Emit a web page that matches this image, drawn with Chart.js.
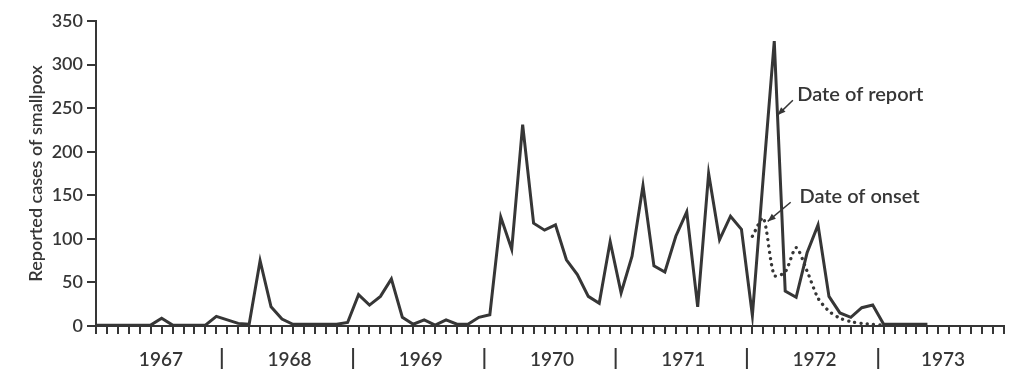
<!DOCTYPE html>
<html>
<head>
<meta charset="utf-8">
<script src="https://cdn.jsdelivr.net/npm/chart.js@4/dist/chart.umd.min.js"></script>
<style>
  html, body { margin: 0; padding: 0; background: #ffffff; }
  #wrap { width: 1024px; height: 375px; }
</style>
</head>
<body>
<div id="wrap"><canvas id="c" width="1024" height="375"></canvas></div>
<script>
// ---- data ----
const years = ['1967', '1968', '1969', '1970', '1971', '1972', '1973'];
const months = ['Jan', 'Feb', 'Mar', 'Apr', 'May', 'Jun', 'Jul', 'Aug', 'Sep', 'Oct', 'Nov', 'Dec'];
const yTicks = [0, 50, 100, 150, 200, 250, 300, 350];
const yTitle = 'Reported cases of smallpox';
const seriesNames = ['Date of report', 'Date of onset'];

// monthly reported cases, by date of report (Jan 1967 .. Dec 1973)
const dateOfReport = [
  1, 1, 1, 1, 1, 1, 9, 1, 1, 1, 1, 11,
  7, 3, 2, 75, 22, 8, 2, 2, 2, 2, 2, 4,
  36, 24, 34, 54, 10, 2, 7, 1, 7, 2, 2, 10,
  13, 125, 88, 231, 118, 110, 116, 76, 59, 34, 26, 97,
  38, 80, 161, 69, 62, 103, 131, 22, 175, 99, 126, 111,
  12, 172, 327, 40, 33, 84, 116, 34, 15, 10, 21, 24,
  2, 2, 2, 2, 2, null, null, null, null, null, null, null
];

// monthly cases, by date of onset (available for 1972 only)
const dateOfOnset = [
  null, null, null, null, null, null, null, null, null, null, null, null,
  null, null, null, null, null, null, null, null, null, null, null, null,
  null, null, null, null, null, null, null, null, null, null, null, null,
  null, null, null, null, null, null, null, null, null, null, null, null,
  null, null, null, null, null, null, null, null, null, null, null, null,
  103, 124, 58, 62, 90, 63, 32, 17, 9, 5, 3, 2,
  1, null, null, null, null, null, null, null, null, null, null, null
];

const labels = years.flatMap(yr => months.map(m => m + ' ' + yr));

// ---- styling ----
const INK = '#363636';
const FONT = 'Lato, "Open Sans", "DejaVu Sans", sans-serif';
const WEIGHT = '600';

// annotation anchors (data coordinates: month index, cases)
const notes = [
  { text: seriesNames[0], at: [64.1, 266], from: [63.7, 259], to: [62.3, 242] },
  { text: seriesNames[1], at: [64.3, 148], from: [63.5, 142], to: [61.4, 120] }
];

const decor = {
  id: 'decor',
  afterDraw(chart) {
    const { ctx, chartArea } = chart;
    const x = chart.scales.x, y = chart.scales.y;
    ctx.save();
    // year boundaries
    const n = years.length;
    const b = [];
    for (let i = 0; i <= n; i++) {
      if (i === 0) b.push(x.getPixelForValue(0));
      else if (i === n) b.push(x.getPixelForValue(n * 12 - 1));
      else b.push((x.getPixelForValue(i * 12 - 1) + x.getPixelForValue(i * 12)) / 2);
    }
    ctx.strokeStyle = INK;
    ctx.lineWidth = 2;
    for (let i = 1; i < n; i++) {
      ctx.beginPath();
      ctx.moveTo(b[i], chartArea.bottom + 22);
      ctx.lineTo(b[i], chartArea.bottom + 43);
      ctx.stroke();
    }
    ctx.fillStyle = INK;
    ctx.font = WEIGHT + ' 19px ' + FONT;
    ctx.textAlign = 'center';
    ctx.textBaseline = 'middle';
    years.forEach((yr, i) => ctx.fillText(yr, (b[i] + b[i + 1]) / 2 + 2, chartArea.bottom + 34));

    // annotations with arrows
    ctx.font = WEIGHT + ' 20px ' + FONT;
    ctx.textAlign = 'left';
    notes.forEach(nt => {
      const tx = x.getPixelForValue(nt.at[0]), ty = y.getPixelForValue(nt.at[1]);
      ctx.fillText(nt.text, tx, ty);
      const x1 = x.getPixelForValue(nt.from[0]), y1 = y.getPixelForValue(nt.from[1]);
      const x2 = x.getPixelForValue(nt.to[0]), y2 = y.getPixelForValue(nt.to[1]);
      ctx.lineWidth = 1.5;
      ctx.beginPath();
      ctx.moveTo(x1, y1);
      ctx.lineTo(x2, y2);
      ctx.stroke();
      const ang = Math.atan2(y2 - y1, x2 - x1);
      const L = 8, W = 3.2;
      ctx.beginPath();
      ctx.moveTo(x2, y2);
      ctx.lineTo(x2 - L * Math.cos(ang) + W * Math.sin(ang), y2 - L * Math.sin(ang) - W * Math.cos(ang));
      ctx.lineTo(x2 - L * Math.cos(ang) - W * Math.sin(ang), y2 - L * Math.sin(ang) + W * Math.cos(ang));
      ctx.closePath();
      ctx.fill();
    });
    ctx.restore();
  }
};

new Chart(document.getElementById('c'), {
  type: 'line',
  data: {
    labels: labels,
    datasets: [
      {
        label: seriesNames[0],
        data: dateOfReport,
        borderColor: INK,
        borderWidth: 3,
        pointRadius: 0,
        tension: 0,
        spanGaps: false,
        fill: false
      },
      {
        label: seriesNames[1],
        data: dateOfOnset,
        borderColor: INK,
        borderWidth: 3.3,
        borderDash: [0.1, 6.2],
        borderCapStyle: 'round',
        pointRadius: 0,
        tension: 0.25,
        fill: false
      }
    ]
  },
  options: {
    responsive: false,
    animation: false,
    events: [],
    layout: { padding: { top: 21, right: 20, left: 0, bottom: 0 } },
    plugins: { legend: { display: false }, tooltip: { enabled: false } },
    scales: {
      x: {
        type: 'category',
        offset: false,
        grid: { drawOnChartArea: false, drawTicks: true, tickLength: 8, color: INK, lineWidth: 2 },
        border: { display: true, color: INK, width: 2 },
        ticks: { display: false, autoSkip: false },
        afterFit: s => { s.height = 49; }
      },
      y: {
        min: 0,
        max: 350,
        afterBuildTicks: s => { s.ticks = yTicks.map(v => ({ value: v })); },
        grid: { drawOnChartArea: false, drawTicks: true, tickLength: 9, color: INK, lineWidth: 2 },
        border: { display: true, color: INK, width: 2 },
        ticks: { color: INK, padding: 4, font: { family: FONT, size: 18, weight: WEIGHT } },
        title: {
          display: true,
          text: yTitle,
          color: INK,
          font: { family: FONT, size: 18, weight: WEIGHT },
          padding: { top: 25, bottom: 0 }
        },
        afterFit: s => { s.width = 96; }
      }
    }
  },
  plugins: [decor]
});
</script>
</body>
</html>
